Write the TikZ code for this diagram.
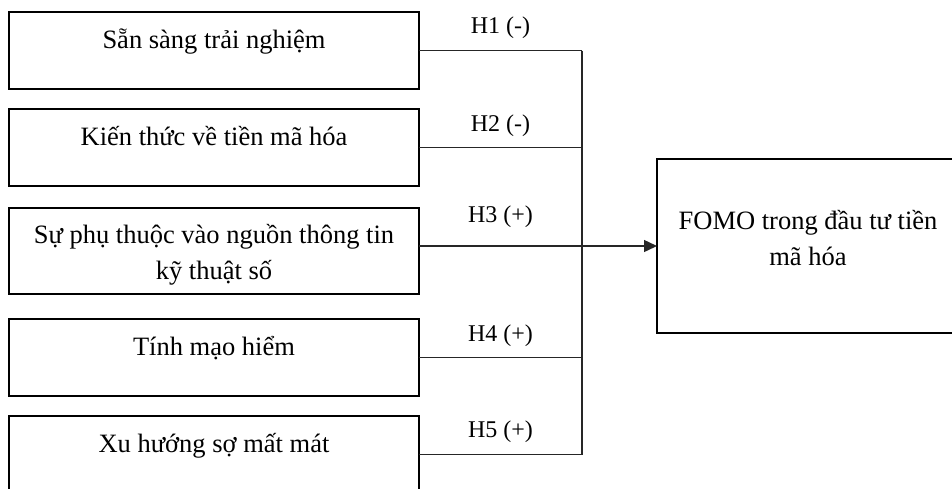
\documentclass[tikz,border=0pt]{standalone}
\usepackage{fontspec}
\setmainfont{Liberation Serif}
\usetikzlibrary{positioning,arrows.meta}

\begin{document}
\begin{tikzpicture}[
    x=1pt, y=1pt,
    font=\fontsize{26.5}{36}\selectfont,
    e/.style={
        draw, line width=2.2pt,
        minimum width=410pt, minimum height=77pt,
        inner sep=0pt, outer sep=0pt
    },
    tx/.style={inner sep=0pt, align=center},
    hl/.style={font=\fontsize{24}{28}\selectfont, inner sep=0pt, text=black},
    l/.style={line width=1.4pt, color=black!85},
    ar/.style={l, -{Triangle[length=13pt,width=12pt]}}
]

\useasboundingbox (0,0) rectangle (952,-488);

\node [e, anchor=north west] (b1) at (9,-12) {};
\node [e, below=20pt of b1] (b2) {};
\node [e, below=22pt of b2, minimum height=86pt] (b3) {};
\node [e, below=25pt of b3] (b4) {};
\node [e, below=20pt of b4] (b5) {};

\node [tx, below=17pt of b1.north] (t1) {Sẵn sàng trải nghiệm};
\node [tx, below=17pt of b2.north] (t2) {Kiến thức về tiền mã hóa};
\node [tx, below=16pt of b3.north] (t3) {Sự phụ thuộc vào nguồn thông tin\\kỹ thuật số};
\node [tx, below=17pt of b4.north] (t4) {Tính mạo hiểm};
\node [tx, below=17pt of b5.north] (t5) {Xu hướng sợ mất mát};

\node [e, minimum width=302pt, minimum height=174pt] (fomo) at (808,-246) {};
\node [tx, yshift=8pt] (tf) at (fomo) {FOMO trong đầu tư tiền\\mã hóa};

\coordinate [right=163pt of b1.east] (j1);

\draw [l] (b1.east) -- node [hl, above=11pt] (h1) {H1 (-)} (j1);
\draw [l] (b2.east) -- node [hl, above=10pt] (h2) {H2 (-)} (b2.east -| j1);
\draw [l] (b3.east |- fomo.west) -- node [hl, above=18pt] (h3) {H3 (+)} (j1 |- fomo.west);
\draw [l] (b4.east) -- node [hl, above=10pt] (h4) {H4 (+)} (b4.east -| j1);
\draw [l] (b5.east) -- node [hl, above=11pt] (h5) {H5 (+)} (b5.east -| j1);

\draw [l] (j1) -- (j1 |- b5.east);
\draw [ar] (j1 |- fomo.west) -- (fomo.west);

\end{tikzpicture}
\end{document}
